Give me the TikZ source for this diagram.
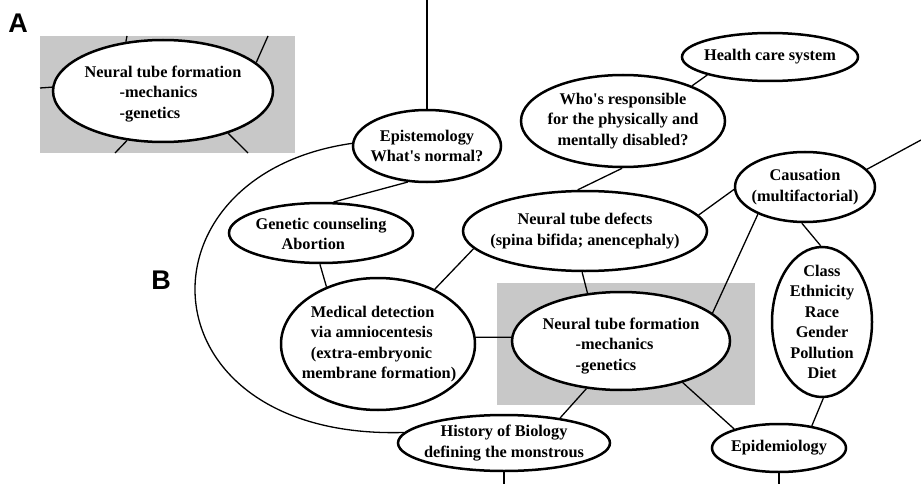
\documentclass[tikz,border=0pt]{standalone}
\usepackage{fontspec}
\setmainfont{Liberation Serif}
\setsansfont{Liberation Sans}
\usetikzlibrary{shapes.geometric}
\definecolor{boxgray}{RGB}{200,200,200}
\begin{document}
\begin{tikzpicture}[x=1pt,y=-1pt,
  bub/.style={ellipse, draw, line width=2.5pt, fill=white, inner sep=0pt},
  txt/.style={inner sep=0pt, align=center, font=\bfseries\fontsize{16.3}{20.5}\selectfont},
  txtl/.style={txt, align=left},
  link/.style={line width=1.3pt},
  panel/.style={fill=boxgray, draw=none},
  tag/.style={font=\sffamily\bfseries\fontsize{27}{27}\selectfont, inner sep=0pt}]
\useasboundingbox (0,0) rectangle (921,484);

% ---------- Panel A ----------
\node[tag] (labA) at (18,23) {A};
\fill[panel] (40,36) rectangle (295,153);
\node[bub, minimum width=220pt, minimum height=102pt] (ntfA) at (163,91) {};
\node[txtl] (ntfAt) at (163,94) {Neural tube formation\\\hspace*{35pt}-mechanics\\\hspace*{35pt}-genetics};
\coordinate (aT) at (127,36);
\coordinate (aTR) at (268,36);
\coordinate (aL) at (40,88);
\coordinate (aBL) at (115,153);
\coordinate (aBR) at (248,153);
\draw[link] (aT) -- (ntfA.127);
\draw[link] (aTR) -- (ntfA.17.5);
\draw[link] (aL) -- (ntfA.178);
\draw[link] (aBL) -- (ntfA.234.5);
\draw[link] (aBR) -- (ntfA.327);

% ---------- Panel B ----------
\node[tag] (labB) at (161,280) {B};
\fill[panel] (497,283) rectangle (755,405);

\node[bub, minimum width=148pt, minimum height=72pt] (epi) at (427,146) {};
\node[txt] at (epi) {Epistemology\\What\textquotesingle s normal?};

\node[bub, minimum width=184pt, minimum height=60pt] (gen) at (321,233) {};
\node[txtl] at (321,234) {Genetic counseling\\\hspace*{26pt}Abortion};

\node[bub, minimum width=194pt, minimum height=132pt] (med) at (378,344) {};
\node[txtl] at (379,344) {\hspace*{9pt}Medical detection\\\hspace*{9pt}via amniocentesis\\\hspace*{9pt}(extra-embryonic\\membrane formation)};

\node[bub, minimum width=218pt, minimum height=98pt] (ntf) at (621,341) {};
\node[txtl] at (621,346) {Neural tube formation\\\hspace*{33pt}-mechanics\\\hspace*{33pt}-genetics};

\node[bub, minimum width=244pt, minimum height=80pt] (ntd) at (585,231) {};
\node[txt] at (ntd) {Neural tube defects\\(spina bifida; anencephaly)};

\node[bub, minimum width=204pt, minimum height=92pt] (who) at (623,121) {};
\node[txt] at (who) {Who\textquotesingle s responsible\\for the physically and\\mentally disabled?};

\node[bub, minimum width=176pt, minimum height=48pt] (hcs) at (770,57) {};
\node[txt] at (hcs) {Health care system};

\node[bub, minimum width=140pt, minimum height=70pt] (cau) at (805,187) {};
\node[txt] at (cau) {Causation\\(multifactorial)};

\node[bub, minimum width=100pt, minimum height=150pt] (cls) at (822,322) {};
\node[txt] at (cls) {Class\\Ethnicity\\Race\\Gender\\Pollution\\Diet};

\node[bub, minimum width=134pt, minimum height=48pt] (epd) at (779,448) {};
\node[txt] at (epd) {Epidemiology};

\node[bub, minimum width=212pt, minimum height=56pt] (his) at (504,443) {};
\node[txt] at (his) {History of Biology\\defining the monstrous};

\coordinate (topE) at (427,0);
\coordinate (rightC) at (921,140);
\coordinate (botE) at (779,484);
\coordinate (botH) at (504,484);

\draw[link] (topE) -- (epi.north);
\draw[link] (epi.242) -- (gen.68);
\draw[link] (gen.268) -- (med.132);
\draw[link] (med.44.5) -- (ntd.189);
\draw[link] (med.4) -- (ntf.178);
\draw[link] (ntd.266) -- (ntf.125);
\draw[link] (who.269) -- (ntd.100);
\draw[link] (hcs.196) -- (who.27.6);
\draw[link] (cau.16.8) -- (rightC);
\draw[link] (cau.182.5) -- (ntd.8.1);
\draw[link] (cau.210) -- (ntf.17.5);
\draw[link] (cau.265) -- (cls.91);
\draw[link] (cls.271) -- (epd.34);
\draw[link] (ntf.326.7) -- (epd.157.8);
\draw[link] (epd.south) -- (botE);
\draw[link] (ntf.234.5) -- (his.24);
\draw[link] (his.south) -- (botH);
\draw[link] (epi.178) .. controls (130,175) and (140,440) .. (his.174);
\end{tikzpicture}
\end{document}
